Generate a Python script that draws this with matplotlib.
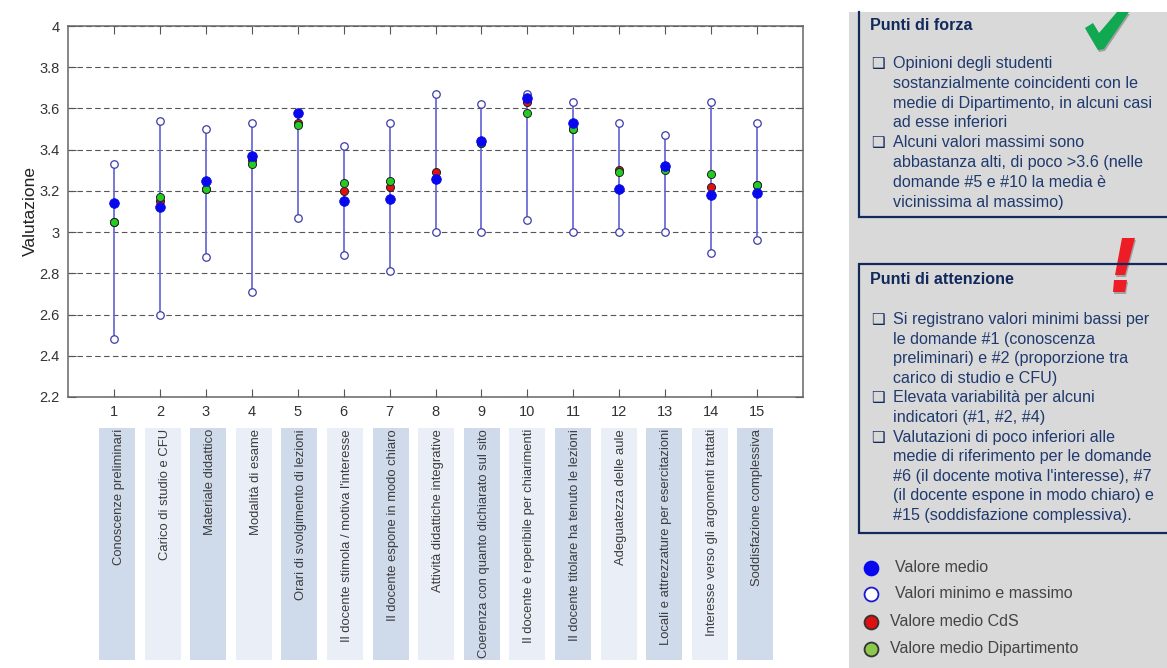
import matplotlib
matplotlib.use("Agg")
import matplotlib.pyplot as plt
from matplotlib.patches import Rectangle, Polygon

plt.rcParams['font.family'] = ['Liberation Sans', 'DejaVu Sans']

questions = list(range(1, 16))
y_ticks = [2.2, 2.4, 2.6, 2.8, 3, 3.2, 3.4, 3.6, 3.8, 4]
y_labels = ["2.2", "2.4", "2.6", "2.8", "3", "3.2", "3.4", "3.6", "3.8", "4"]

media = [3.14, 3.12, 3.25, 3.37, 3.58, 3.15, 3.16, 3.26, 3.44, 3.65, 3.53, 3.21, 3.32, 3.18, 3.19]
minimi = [2.48, 2.60, 2.88, 2.71, 3.07, 2.89, 2.81, 3.00, 3.00, 3.06, 3.00, 3.00, 3.00, 2.90, 2.96]
massimi = [3.33, 3.54, 3.50, 3.53, 3.58, 3.42, 3.53, 3.67, 3.62, 3.67, 3.63, 3.53, 3.47, 3.63, 3.53]
media_cds = [3.05, 3.15, 3.21, 3.35, 3.53, 3.20, 3.22, 3.29, 3.43, 3.63, 3.50, 3.30, 3.31, 3.22, 3.23]
media_dip = [3.05, 3.17, 3.21, 3.33, 3.52, 3.24, 3.25, 3.26, 3.43, 3.58, 3.50, 3.29, 3.30, 3.28, 3.23]

etichette = [
    "Conoscenze preliminari", "Carico di studio e CFU", "Materiale didattico",
    "Modalità di esame", "Orari di svolgimento di lezioni",
    "Il docente stimola / motiva l'interesse", "Il docente espone in modo chiaro",
    "Attività didattiche integrative", "Coerenza con quanto dichiarato sul sito",
    "Il docente è reperibile per chiarimenti", "Il docente titolare ha tenuto le lezioni",
    "Adeguatezza delle aule", "Locali e attrezzature per esercitazioni",
    "Interesse verso gli argomenti trattati", "Soddisfazione complessiva",
]

forza_righe = [
    ("❑", "Opinioni degli studenti"),
    ("", "sostanzialmente coincidenti con le"),
    ("", "medie di Dipartimento, in alcuni casi"),
    ("", "ad esse inferiori"),
    ("❑", "Alcuni valori massimi sono"),
    ("", "abbastanza alti, di poco >3.6 (nelle"),
    ("", "domande #5 e #10 la media è"),
    ("", "vicinissima al massimo)"),
]
attenzione_righe = [
    ("❑", "Si registrano valori minimi bassi per"),
    ("", "le domande #1 (conoscenza"),
    ("", "preliminari) e #2 (proporzione tra"),
    ("", "carico di studio e CFU)"),
    ("❑", "Elevata variabilità per alcuni"),
    ("", "indicatori (#1, #2, #4)"),
    ("❑", "Valutazioni di poco inferiori alle"),
    ("", "medie di riferimento per le domande"),
    ("", "#6 (il docente motiva l'interesse), #7"),
    ("", "(il docente espone in modo chiaro) e"),
    ("", "#15 (soddisfazione complessiva)."),
]

W, H = 1167, 668
NAVY = "#12295c"
TXT = "#1f3a6e"

fig = plt.figure(figsize=(W / 100, H / 100), dpi=100)

# overlay in pixel coords for bands and side panel
bg = fig.add_axes([0, 0, 1, 1])
bg.set_xlim(0, W)
bg.set_ylim(H, 0)
bg.axis("off")

# --- main chart ---
ax = fig.add_axes([68 / W, 1 - 397 / H, (803 - 68) / W, (397 - 26) / H])
ax.set_xlim(0, 16)
ax.set_ylim(2.2, 4)
ax.yaxis.grid(True, linestyle=(0, (5, 3)), color="#555555", linewidth=0.8)
ax.set_axisbelow(True)
ax.vlines(questions, minimi, massimi, color="#6c6cd8", linewidth=1.3, zorder=2)
ax.plot(questions, minimi, "o", ms=5.4, mfc="white", mec="#3c3ca8", mew=0.9, ls="none", zorder=3)
ax.plot(questions, massimi, "o", ms=5.4, mfc="white", mec="#3c3ca8", mew=0.9, ls="none", zorder=3)
ax.plot(questions, media_cds, "o", ms=5.8, mfc="#e01010", mec="#222222", mew=0.7, ls="none", zorder=4)
ax.plot(questions, media_dip, "o", ms=5.8, mfc="#22cc22", mec="#222222", mew=0.7, ls="none", zorder=5)
ax.plot(questions, media, "o", ms=7, mfc="#0808ee", mec="#0808ee", mew=0.5, ls="none", zorder=6)
ax.set_xticks(questions)
ax.set_xticklabels([str(q) for q in questions])
ax.set_yticks(y_ticks)
ax.set_yticklabels(y_labels)
ax.tick_params(axis="both", direction="in", top=True, right=True, length=6, width=0.8,
               color="#555555", labelcolor="#333333", labelsize=10.5, pad=6)
ax.set_ylabel("Valutazione", fontsize=12.5, color="#222222", labelpad=0)
ax.yaxis.set_label_coords((38 - 68) / (803 - 68), 0.5)
for s in ax.spines.values():
    s.set_color("#666666")
    s.set_linewidth(1.1)

# --- category strips below the axis ---
for i, lab in enumerate(etichette):
    x0 = 99 + i * 45.6
    col = "#cfdaeb" if i % 2 == 0 else "#e9eef7"
    bg.add_patch(Rectangle((x0, 428), 36, 232, fc=col, ec="none"))
    bg.text(x0 + 20, 429, lab, rotation=90, ha="center", va="top", fontsize=9.4, color="#3c3c3c")

# --- side panel ---
bg.add_patch(Rectangle((849, 12), W - 849, H - 12, fc="#d9d9d9", ec="none"))
bg.plot([859, 859, W], [12, 217, 217], color=NAVY, lw=1.6, solid_joinstyle="miter")
bg.plot([W, 859, 859, W], [264, 264, 533, 533], color=NAVY, lw=1.6, solid_joinstyle="miter")

bg.text(870, 25, "Punti di forza", fontsize=11.6, fontweight="bold", color=NAVY, va="center")
bg.text(870, 280, "Punti di attenzione", fontsize=11.6, fontweight="bold", color=NAVY, va="center")


def scrivi(righe, y0, passo):
    for k, (bul, riga) in enumerate(righe):
        y = y0 + k * passo
        if bul:
            bg.text(871, y, bul, fontsize=11, color=NAVY, fontweight="bold", ha="left", va="center",
                    family="DejaVu Sans")
        bg.text(893, y, riga, fontsize=11.6, color=TXT, va="center")


scrivi(forza_righe, 63.5, 19.8)
scrivi(attenzione_righe, 319.5, 19.6)

# check mark and exclamation mark, with a soft shadow
spunta = [(1085, 28), (1093, 23), (1099, 33), (1117, 12), (1129, 12), (1104, 49), (1098, 50)]
bg.add_patch(Polygon([(x + 1, max(y + 2, 12)) for x, y in spunta], fc="#a0a0a0", ec="none"))
bg.add_patch(Polygon(spunta, fc="#10a850", ec="none"))
asta = [(1122, 238), (1135, 238), (1125, 275), (1115, 275)]
punto = [(1114, 280), (1127, 280), (1125, 292), (1113, 292)]
for forma in (asta, punto):
    bg.add_patch(Polygon([(x + 1, y + 2) for x, y in forma], fc="#a0a0a0", ec="none"))
    bg.add_patch(Polygon(forma, fc="#ee1c25", ec="none"))

# legend
voci = [
    (568, 895, "Valore medio", "#0808ee", "#0808ee"),
    (594, 895, "Valori minimo e massimo", "white", "#1a1ad0"),
    (622, 890, "Valore medio CdS", "#e01010", "#333333"),
    (649, 890, "Valore medio Dipartimento", "#8cc84b", "#333333"),
]
for y, xt, lab, fc, ec in voci:
    bg.plot([871], [y], "o", ms=10, mfc=fc, mec=ec, mew=1.3)
    bg.text(xt, y, lab, fontsize=11.5, color="#444444", va="center")

bg.set_xlim(0, W)
bg.set_ylim(H, 0)
fig.savefig("out.png", dpi=100)
